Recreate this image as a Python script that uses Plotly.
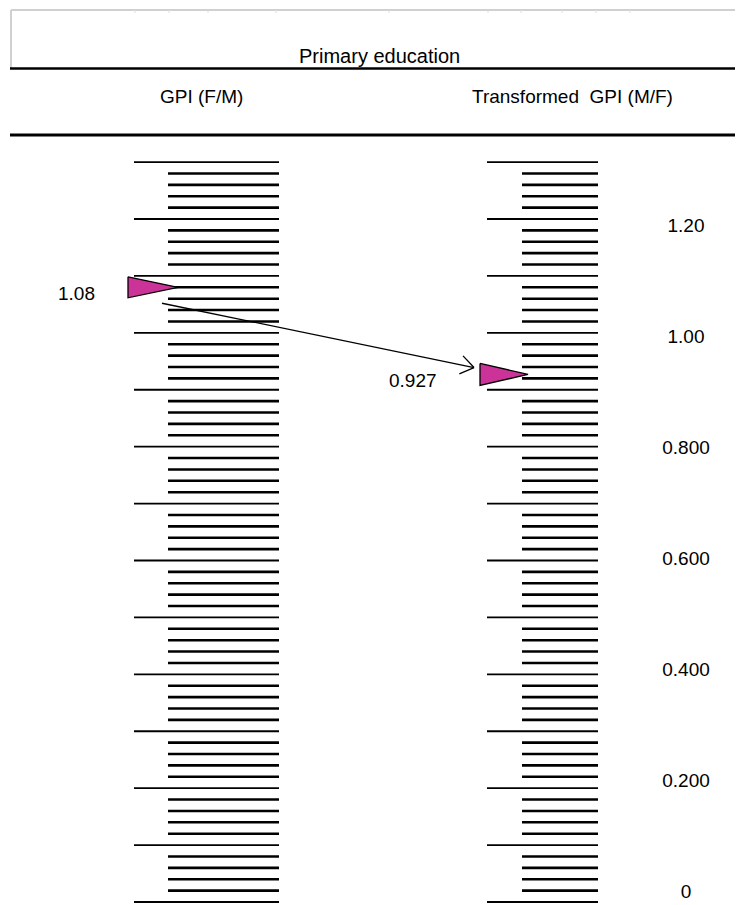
import math
import plotly.graph_objects as go

# ---------------- data ----------------
title_text = "Primary education"
left_title = "GPI (F/M)"
right_title = "Transformed  GPI (M/F)"

gpi_value = 1.08            # GPI (F/M)
transformed_value = 0.927   # Transformed GPI (M/F)
gpi_label = "1.08"
transformed_label = "0.927"

major_ticks = [0.0, 0.1, 0.2, 0.3, 0.4, 0.5, 0.6, 0.7, 0.8, 0.9, 1.0, 1.1, 1.2, 1.3]
minor_steps = [0.02, 0.04, 0.06, 0.08]

scale_label_values = [1.2, 1.0, 0.8, 0.6, 0.4, 0.2, 0.0]
scale_label_text = ["1.20", "1.00", "0.800", "0.600", "0.400", "0.200", "0"]

# ---------------- layout constants ----------------
OFF = 8                          # page body margin
W, H = 743 - OFF, 905 - OFF      # figure size
PX = (902 - 219) / 1.2           # pixels per value unit (tick scales)
Y1 = (902 - OFF) / PX            # value at top edge of the figure
Y0 = Y1 - H / PX                 # value at bottom edge
# label column scale (slightly different from the tick scales, as in the source)
LPX = 555.0
LY1 = (893 - OFF) / LPX
LY0 = LY1 - H / LPX
FONT = "Liberation Sans, Arial, sans-serif"
MAGENTA = "#CC3399"

minor_ticks = [round(m + s, 4) for m in major_ticks[:-1] for s in minor_steps]


def pap(p):
    """screen pixel row -> paper y"""
    return 1 - (p - OFF) / H


def tick_trace(values, x0, x1, width):
    xs, ys = [], []
    for v in values:
        xs += [x0, x1, None]
        ys += [v, v, None]
    return go.Scatter(x=xs, y=ys, mode="lines", hoverinfo="skip",
                      line=dict(color="black", width=width), showlegend=False)


def triangle(tip_x, v, width=50, half_px=10.5):
    h = half_px / PX
    return go.Scatter(x=[tip_x - width, tip_x, tip_x - width, tip_x - width],
                      y=[v + h, v, v - h, v + h], mode="lines", fill="toself",
                      fillcolor=MAGENTA, line=dict(color="black", width=1.3),
                      hoverinfo="skip", showlegend=False)


fig = go.Figure()

# scales
fig.add_trace(tick_trace(major_ticks, 134, 279, 1.8))
fig.add_trace(tick_trace(minor_ticks, 168, 279, 2.6))
fig.add_trace(tick_trace(major_ticks, 487, 598, 1.8))
fig.add_trace(tick_trace(minor_ticks, 522, 598, 2.6))

# markers
fig.add_trace(triangle(178, gpi_value))
fig.add_trace(triangle(528, transformed_value, width=48, half_px=11))

# arrow from the GPI marker to the transformed marker
sx, sy = 162, gpi_value - 0.028
ex, ey = 474, transformed_value + 0.012
dx = ex - sx
dy = -(ey - sy) * PX  # screen pixels (down positive)
ang = math.atan2(dy, dx) + math.pi
arm = 16
head_x, head_y = [], []
for da in (math.radians(35), -math.radians(35)):
    ax = ex + arm * math.cos(ang + da)
    ay = ey - arm * math.sin(ang + da) / PX
    head_x += [ax, ex, None]
    head_y += [ay, ey, None]
fig.add_trace(go.Scatter(x=[sx, ex, None] + head_x, y=[sy, ey, None] + head_y,
                         mode="lines", line=dict(color="black", width=1.3),
                         hoverinfo="skip", showlegend=False))

# scale labels (own overlaid axis)
fig.add_trace(go.Scatter(x=[686] * len(scale_label_values), y=scale_label_values,
                         yaxis="y2", mode="text", text=scale_label_text,
                         textposition="middle center",
                         textfont=dict(family=FONT, size=19, color="black"),
                         hoverinfo="skip", showlegend=False, cliponaxis=False))

annotations = []
num_font = dict(family=FONT, size=19, color="black")
# value labels
annotations.append(dict(x=76, y=gpi_value, xref="x", yref="y", text=gpi_label,
                        showarrow=False, yshift=-6, xanchor="center", yanchor="middle",
                        font=num_font))
annotations.append(dict(x=413, y=transformed_value, xref="x", yref="y", text=transformed_label,
                        showarrow=False, yshift=-6, xanchor="center", yanchor="middle",
                        font=num_font))
# headers
annotations.append(dict(x=379, y=pap(56), xref="x", yref="paper", text=title_text,
                        showarrow=False, xanchor="center", yanchor="middle",
                        font=dict(family=FONT, size=20, color="black")))
annotations.append(dict(x=201, y=pap(97), xref="x", yref="paper", text=left_title,
                        showarrow=False, xanchor="center", yanchor="middle",
                        font=dict(family=FONT, size=19, color="black")))
annotations.append(dict(x=572, y=pap(97), xref="x", yref="paper",
                        text=right_title.replace("  ", "&nbsp; "),
                        showarrow=False, xanchor="center", yanchor="middle",
                        font=dict(family=FONT, size=19, color="black")))

shapes = [
    dict(type="line", xref="x", yref="paper", x0=11, x1=743, y0=pap(10), y1=pap(10),
         line=dict(color="#d0d0d0", width=2)),
    dict(type="line", xref="x", yref="paper", x0=11, x1=11, y0=pap(10), y1=pap(68),
         line=dict(color="#d0d0d0", width=2)),
    dict(type="line", xref="x", yref="paper", x0=10, x1=743, y0=pap(68.5), y1=pap(68.5),
         line=dict(color="black", width=2.5)),
    dict(type="line", xref="x", yref="paper", x0=10, x1=743, y0=pap(135), y1=pap(135),
         line=dict(color="black", width=3)),
]
for sxp in [135, 169, 208, 276, 389, 488, 521, 562, 596, 630]:
    shapes.append(dict(type="line", xref="x", yref="paper", x0=sxp, x1=sxp,
                       y0=pap(10), y1=pap(13), line=dict(color="#dddddd", width=1)))

fig.update_layout(
    width=W, height=H,
    margin=dict(l=0, r=0, t=0, b=0),
    paper_bgcolor="white", plot_bgcolor="white",
    xaxis=dict(range=[OFF, 743], visible=False, fixedrange=True),
    yaxis=dict(range=[Y0, Y1], visible=False, fixedrange=True),
    yaxis2=dict(range=[LY0, LY1], visible=False, fixedrange=True,
                overlaying="y", side="right"),
    showlegend=False, hovermode=False,
    annotations=annotations, shapes=shapes,
)

fig.write_html("out.html")
